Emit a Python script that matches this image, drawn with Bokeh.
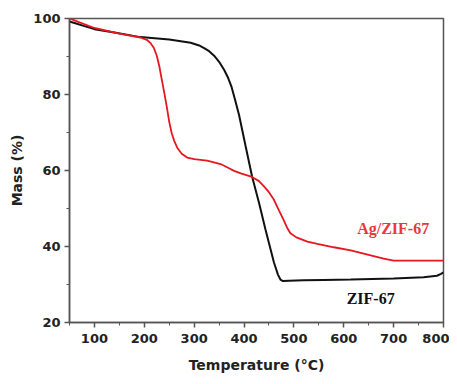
from bokeh.plotting import figure
from bokeh.models import FixedTicker, Label, Range1d
from bokeh.embed import file_html
from bokeh.resources import INLINE

# ZIF-67 (black)
zif_temp = [50, 60, 80, 100, 140, 192, 250, 293, 310, 320, 330, 340, 350, 360, 368,
            375, 382, 390, 403, 416, 430, 443, 460, 468, 473, 478, 490, 520, 560,
            614, 700, 760, 787, 795, 800]
zif_mass = [99.2, 98.8, 98.0, 97.2, 96.3, 95.1, 94.5, 93.6, 92.9, 92.2, 91.4, 90.2,
            88.6, 86.5, 84.4, 82.0, 78.6, 74.6, 66.5, 58.5, 51.5, 44.5, 35.8, 32.6,
            31.3, 30.9, 31.0, 31.1, 31.2, 31.3, 31.6, 31.9, 32.3, 32.8, 33.2]

# Ag/ZIF-67 (red)
ag_temp = [50, 60, 70, 100, 150, 192, 205, 212, 219, 225, 230, 235, 240, 245, 250,
           255, 260, 266, 275, 286, 300, 326, 353, 370, 380, 395, 416, 430, 440, 450,
           460, 470, 480, 487, 493, 505, 527, 547, 580, 614, 650, 680, 700, 750, 800]
ag_mass = [100.0, 99.5, 99.0, 97.5, 96.0, 95.0, 94.4, 93.6, 92.3, 90.2, 87.5, 84.0,
           80.5, 76.8, 72.8, 69.8, 67.8, 66.0, 64.4, 63.4, 63.0, 62.6, 61.7, 60.6,
           59.9, 59.2, 58.3, 57.2, 55.8, 54.3, 52.3, 49.5, 46.8, 44.8, 43.5, 42.4,
           41.3, 40.7, 39.8, 39.0, 37.8, 36.8, 36.3, 36.3, 36.3]

x_ticks = [100, 200, 300, 400, 500, 600, 700, 800]
x_minor = [50, 150, 250, 350, 450, 550, 650, 750]
y_ticks = [20, 40, 60, 80, 100]
y_minor = [30, 50, 70, 90]

p = figure(width=449, height=376, output_backend="svg", toolbar_location=None,
           x_range=Range1d(50, 800), y_range=Range1d(20, 100),
           min_border_left=69, min_border_right=6, min_border_top=18,
           min_border_bottom=54)
p.xgrid.visible = False
p.ygrid.visible = False
p.outline_line_color = "#555555"
p.outline_line_width = 1.5

p.line(zif_temp, zif_mass, line_color="#111111", line_width=2)
p.line(ag_temp, ag_mass, line_color="#e8161e", line_width=1.8)

p.xaxis.ticker = FixedTicker(ticks=x_ticks, minor_ticks=x_minor)
p.yaxis.ticker = FixedTicker(ticks=y_ticks, minor_ticks=y_minor)

for ax in (p.xaxis[0], p.yaxis[0]):
    ax.axis_line_color = "#555555"
    ax.axis_line_width = 1.5
    ax.major_tick_line_color = "#555555"
    ax.minor_tick_line_color = "#555555"
    ax.major_tick_line_width = 1.5
    ax.major_tick_out = 5
    ax.major_tick_in = 0
    ax.minor_tick_out = 3
    ax.minor_tick_in = 0
    ax.major_label_text_font = "DejaVu Sans"
    ax.major_label_text_font_style = "bold"
    ax.major_label_text_font_size = "13px"
    ax.major_label_text_color = "#222222"
    ax.axis_label_text_font = "DejaVu Sans"
    ax.axis_label_text_font_style = "bold"
    ax.axis_label_text_font_size = "14px"
    ax.axis_label_text_color = "#222222"

p.xaxis.axis_label = "Temperature (°C)"
p.yaxis.axis_label = "Mass (%)"
p.xaxis.major_label_standoff = 6
p.yaxis.major_label_standoff = 4
p.xaxis.axis_label_standoff = 11
p.yaxis.axis_label_standoff = 5

p.add_layout(Label(x=699, y=44.8, text="Ag/ZIF-67", text_align="center",
                   text_baseline="middle", text_font="Liberation Serif",
                   text_font_style="bold", text_font_size="16px",
                   text_color="#e8383d"))
p.add_layout(Label(x=654, y=26.3, text="ZIF-67", text_align="center",
                   text_baseline="middle", text_font="Liberation Serif",
                   text_font_style="bold", text_font_size="16px",
                   text_color="#111111"))

open("out.html", "w").write(file_html(p, INLINE))
